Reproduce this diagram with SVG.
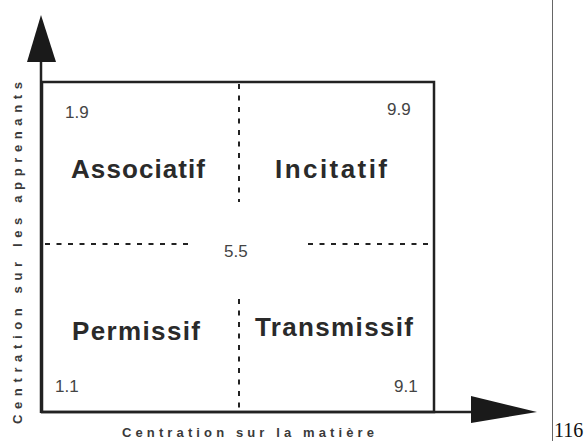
<svg xmlns="http://www.w3.org/2000/svg" width="587" height="441" viewBox="0 0 587 441">
  <style>
    .frame { fill: none; stroke: #222; stroke-width: 2.5; }
    .axis { stroke: #222; stroke-width: 2.5; fill: none; }
    .head { fill: #1a1a1a; }
    .dash { stroke: #222; stroke-width: 2; stroke-dasharray: 5 6.5; fill: none; }
    .num { font-family: "Liberation Sans", Arial, sans-serif; font-size: 17px; fill: #444; }
    .quad { font-family: "Liberation Sans", Arial, sans-serif; font-size: 26px; font-weight: bold; fill: #2a2a2a; }
    .axislabel { font-family: "Liberation Sans", Arial, sans-serif; font-size: 13px; font-weight: bold; fill: #3a3a3a; }
    .page { font-family: "Liberation Serif", "Times New Roman", serif; font-size: 20px; fill: #111; }
  </style>
  <rect width="587" height="441" fill="#fff"/>

  <!-- axes with arrowheads -->
  <g id="connectors">
    <line class="axis" x1="41" y1="60" x2="41" y2="413"/>
    <polygon class="head" points="27,62 41,15 56,62"/>
    <line class="axis" x1="41" y1="412" x2="474" y2="412"/>
    <polygon class="head" points="471,396 537,412 471,423"/>
    <!-- quadrant separators -->
    <line class="dash" x1="239" y1="84" x2="239" y2="202"/>
    <line class="dash" x1="239" y1="299" x2="239" y2="411"/>
    <line class="dash" x1="45" y1="244" x2="188" y2="244"/>
    <line class="dash" x1="308" y1="244" x2="433" y2="244"/>
  </g>

  <!-- outer grid frame -->
  <g id="grid">
    <rect class="frame" x="42" y="82" width="392" height="330"/>
  </g>

  <g id="associatif">
    <text class="num" x="65" y="118">1.9</text>
    <text class="quad" x="71" y="178" textLength="134" lengthAdjust="spacing">Associatif</text>
  </g>
  <g id="incitatif">
    <text class="num" x="387" y="115">9.9</text>
    <text class="quad" x="275" y="178" textLength="112" lengthAdjust="spacing">Incitatif</text>
  </g>
  <g id="centre">
    <text class="num" x="224" y="257">5.5</text>
  </g>
  <g id="permissif">
    <text class="quad" x="72" y="340" textLength="128" lengthAdjust="spacing">Permissif</text>
    <text class="num" x="55" y="392">1.1</text>
  </g>
  <g id="transmissif">
    <text class="quad" x="255" y="336" textLength="158" lengthAdjust="spacing">Transmissif</text>
    <text class="num" x="394" y="392">9.1</text>
  </g>

  <!-- axis titles -->
  <g id="axis-x">
    <text class="axislabel" x="122" y="437" textLength="252" lengthAdjust="spacing">Centration sur la matière</text>
  </g>
  <g id="axis-y">
    <text class="axislabel" transform="translate(22,424) rotate(-90)" x="0" y="0" textLength="342" lengthAdjust="spacing">Centration sur les apprenants</text>
  </g>

  <!-- page margin rule and number -->
  <g id="page">
    <line x1="552.5" y1="0" x2="552.5" y2="441" stroke="#666" stroke-width="1"/>
    <text class="page" x="554" y="437">116</text>
  </g>
</svg>
